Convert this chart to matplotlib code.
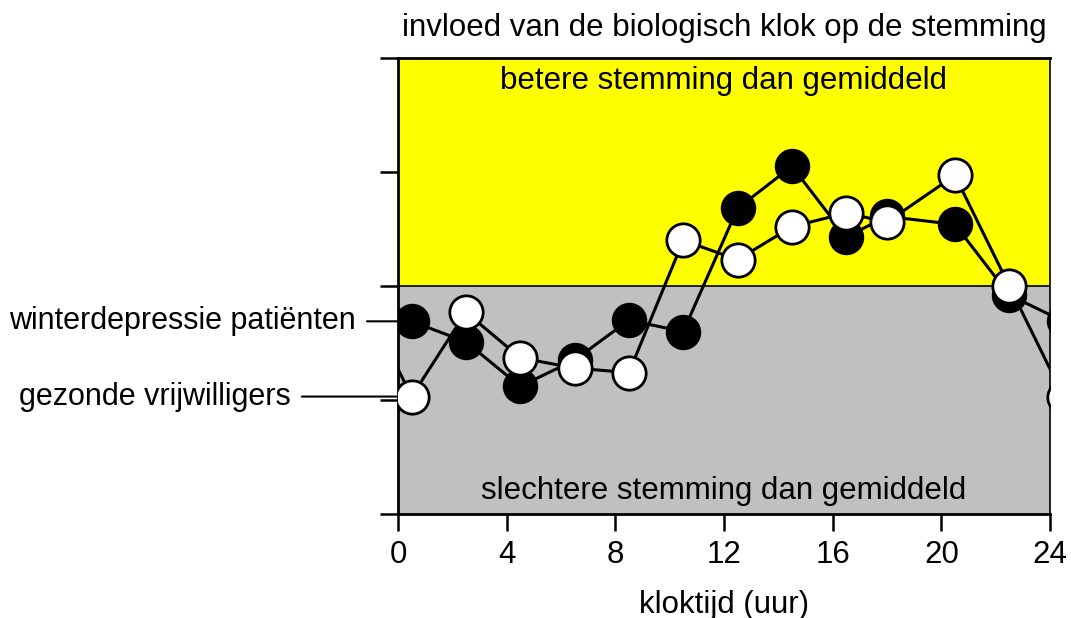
import numpy as np
import matplotlib

matplotlib.use("agg")
import matplotlib.pyplot as plt

plt.rcParams["font.family"] = ["Liberation Sans", "DejaVu Sans"]

# clock hours of the measurements
hours = [0.5, 2.5, 4.5, 6.5, 8.5, 10.5, 12.5, 14.5, 16.5, 18.0, 20.5, 22.5]
# mood relative to the average (no units on the axis)
patients = [-0.31, -0.49, -0.88, -0.65, -0.30, -0.40, 0.68, 1.05, 0.43, 0.61, 0.54, -0.08]
volunteers = [-0.97, -0.23, -0.63, -0.72, -0.76, 0.40, 0.23, 0.52, 0.64, 0.56, 0.97, 0.00]

xticks = [0, 4, 8, 12, 16, 20, 24]
yticks = [-2, -1, 0, 1, 2]

title = "invloed van de biologisch klok op de stemming"
xlabel = "kloktijd (uur)"
label_pat = "winterdepressie patiënten"
label_vol = "gezonde vrijwilligers"
better = "betere stemming dan gemiddeld"
worse = "slechtere stemming dan gemiddeld"

FS = 22.5


def wrap(x, y):
    # the day is cyclic: repeat last point before 0 and first point after 24
    x = np.concatenate([[x[-1] - 24], x, [x[0] + 24]])
    y = np.concatenate([[y[-1]], y, [y[0]]])
    return x, y


fig = plt.figure(figsize=(10.71, 6.18), dpi=100)
ax = fig.add_axes([0.3716, 0.1683, 0.6088, 0.7379])

ax.set_xlim(0, 24)
ax.set_ylim(-2, 2)
ax.axhspan(0, 2, color="#ffff00", zorder=0)
ax.axhspan(-2, 0, color="#c0c0c0", zorder=0)
ax.axhline(0, color="black", lw=1.2, zorder=1)

xp, yp = wrap(hours, patients)
ax.plot(xp, yp, "-o", color="black", lw=2.2, ms=24, mfc="black", mec="black", mew=1.5, zorder=3)
xv, yv = wrap(hours, volunteers)
ax.plot(xv, yv, "-o", color="black", lw=2.2, ms=24, mfc="white", mec="black", mew=2, zorder=4)

ax.set_xticks(xticks)
ax.set_yticks(yticks)
ax.set_yticklabels([])
ax.tick_params(axis="both", direction="out", length=12, width=1.8, labelsize=FS, pad=7)
ax.tick_params(axis="y", length=13)
ax.set_xlabel(xlabel, fontsize=FS, labelpad=14)
ax.set_title(title, fontsize=FS, pad=16)

for side in ["left", "bottom", "top"]:
    ax.spines[side].set_linewidth(2)
ax.spines["right"].set_linewidth(1.2)

ax.text(12, 1.8, better, ha="center", va="center", fontsize=FS)
ax.text(12, -1.8, worse, ha="center", va="center", fontsize=FS)

ax.annotate(label_pat, xy=(hours[0], patients[0]), xytext=(-1.55, patients[0]),
            textcoords="data", ha="right", va="center", fontsize=22,
            arrowprops=dict(arrowstyle="-", color="black", lw=1.5, shrinkA=6, shrinkB=0),
            annotation_clip=False, zorder=2)
ax.annotate(label_vol, xy=(hours[0], volunteers[0]), xytext=(-3.95, volunteers[0]),
            textcoords="data", ha="right", va="center", fontsize=22,
            arrowprops=dict(arrowstyle="-", color="black", lw=1.5, shrinkA=6, shrinkB=0),
            annotation_clip=False, zorder=2)

fig.savefig("out.png", dpi=100)
